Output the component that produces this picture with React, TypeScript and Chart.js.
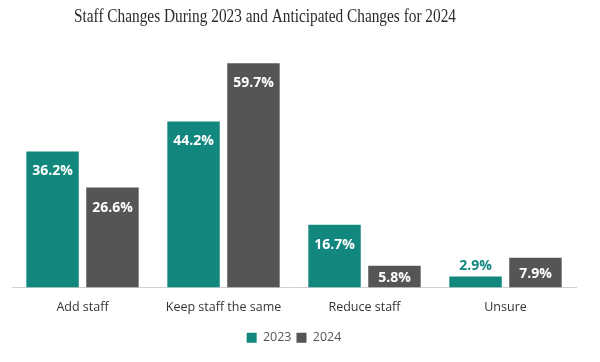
import React, { useEffect, useRef } from "react";
import { Chart, registerables } from "chart.js";

Chart.register(...registerables);

const categories = ["Add staff", "Keep staff the same", "Reduce staff", "Unsure"];
const values2023 = [36.2, 44.2, 16.7, 2.9];
const values2024 = [26.6, 59.7, 5.8, 7.9];
const seriesLabels = ["2023", "2024"];
const title = "Staff Changes During 2023 and Anticipated Changes for 2024";

const TEAL = "#12877e";
const GRAY = "#555556";

const titlePlugin = {
  id: "customTitle",
  afterDraw(chart: any) {
    const ctx = chart.ctx;
    ctx.save();
    ctx.font = "19px 'Liberation Serif'";
    ctx.fillStyle = "#2b2b2b";
    ctx.textBaseline = "middle";
    ctx.textAlign = "center";
    const w = ctx.measureText(title).width;
    const target = 382;
    const s = target / w;
    ctx.translate(265, 17);
    ctx.scale(s, 1);
    ctx.fillText(title, 0, 0);
    ctx.restore();
  },
};

const labelPlugin = {
  id: "barLabels",
  afterDatasetsDraw(chart: any) {
    const ctx = chart.ctx;
    ctx.save();
    ctx.font = "bold 14px 'Open Sans'";
    ctx.textAlign = "center";
    ctx.textBaseline = "middle";
    chart.data.datasets.forEach((ds: any, di: number) => {
      const meta = chart.getDatasetMeta(di);
      meta.data.forEach((bar: any, i: number) => {
        const v = ds.data[i];
        const txt = v.toFixed(1) + "%";
        const h = bar.base - bar.y;
        let y;
        if (h > 40) {
          y = bar.y + 20;
          ctx.fillStyle = "#ffffff";
        } else if (h > 18) {
          y = bar.y + h / 2 + 1;
          ctx.fillStyle = "#ffffff";
        } else {
          y = bar.y - 11;
          ctx.fillStyle = ds.backgroundColor;
        }
        ctx.fillText(txt, bar.x, y);
      });
    });
    ctx.restore();
  },
};

export default function App() {
  const ref = useRef<HTMLCanvasElement>(null);
  useEffect(() => {
    document.body.style.margin = "0";
    const chart = new Chart(ref.current!, {
      type: "bar",
      data: {
        labels: categories,
        datasets: [
          { label: seriesLabels[0], data: values2023, backgroundColor: TEAL, barPercentage: 0.875, categoryPercentage: 0.85 },
          { label: seriesLabels[1], data: values2024, backgroundColor: GRAY, barPercentage: 0.875, categoryPercentage: 0.85 },
        ],
      },
      options: {
        responsive: false,
        animation: false,
        layout: { padding: { left: 12, right: 24, top: 62, bottom: 8 } },
        plugins: {
          title: { display: false },
          legend: {
            position: "bottom",
            labels: {
              boxWidth: 10,
              boxHeight: 10,
              color: "#555555",
              font: { family: "'Open Sans'", size: 12.5 },
              padding: 5,
            },
          },
          tooltip: { enabled: false },
        },
        scales: {
          x: {
            grid: { display: false, drawTicks: false },
            border: { display: true, color: "#d0d0d0" },
            ticks: { color: "#333333", font: { family: "'Open Sans'", size: 12.5 }, padding: 12 },
          },
          y: {
            min: 0,
            max: 60,
            display: false,
          },
        },
      },
      plugins: [labelPlugin, titlePlugin],
    });
    return () => chart.destroy();
  }, []);
  return (
    <div style={{ position: "absolute", left: 0, top: 0, width: 600, height: 362 }}>
      <canvas ref={ref} width={600} height={362} />
    </div>
  );
}
